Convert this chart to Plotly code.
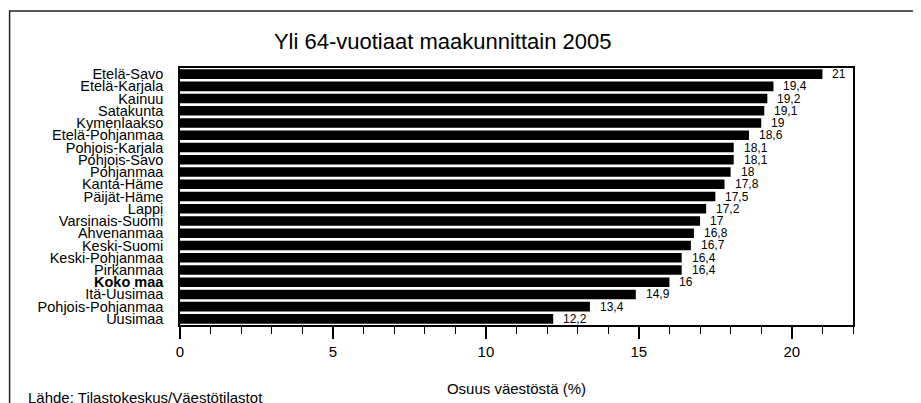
import plotly.graph_objects as go

# Data: share of population aged over 64, by region, 2005 (%)
regions = [
    "Etelä-Savo", "Etelä-Karjala", "Kainuu", "Satakunta", "Kymenlaakso",
    "Etelä-Pohjanmaa", "Pohjois-Karjala", "Pohjois-Savo", "Pohjanmaa",
    "Kanta-Häme", "Päijät-Häme", "Lappi", "Varsinais-Suomi", "Ahvenanmaa",
    "Keski-Suomi", "Keski-Pohjanmaa", "Pirkanmaa", "Koko maa", "Itä-Uusimaa",
    "Pohjois-Pohjanmaa", "Uusimaa",
]
shares = [21, 19.4, 19.2, 19.1, 19, 18.6, 18.1, 18.1, 18, 17.8, 17.5, 17.2,
          17, 16.8, 16.7, 16.4, 16.4, 16, 14.9, 13.4, 12.2]
x_ticks = [0, 5, 10, 15, 20]

FONT = "Liberation Sans, Arial, sans-serif"
INK = "#000000"

# bold label for the national total
tick_text = [f"<b>{r}</b>" if r == "Koko maa" else r for r in regions]

fig = go.Figure()
fig.add_trace(go.Bar(
    x=shares,
    y=regions,
    orientation="h",
    marker=dict(color=INK, line=dict(width=0)),
    hoverinfo="x+y",
))

# value labels with Finnish decimal comma
for r, v in zip(regions, shares):
    fig.add_annotation(
        x=v, y=r, xref="x", yref="y",
        text=f"{v:g}".replace(".", ","),
        showarrow=False, xanchor="left", xshift=8,
        font=dict(family=FONT, size=12, color=INK),
    )

# page has an 8px body margin, so positions are pulled in by 8px
fig.update_layout(
    width=921, height=403,
    margin=dict(l=171.5, r=76, t=60, b=86),
    paper_bgcolor="white", plot_bgcolor="white",
    bargap=0.22,
    showlegend=False,
    font=dict(family=FONT, color=INK),
    title=dict(
        text="Yli 64-vuotiaat maakunnittain 2005",
        x=0.472, xanchor="center", y=0.918, yanchor="middle",
        font=dict(family=FONT, size=22, color=INK),
    ),
)

fig.update_xaxes(
    range=[0, 22],
    tickvals=x_ticks,
    ticks="outside", ticklen=12, tickwidth=1.5, tickcolor=INK,
    minor=dict(dtick=1, ticks="outside", ticklen=7, tickwidth=1.2, tickcolor=INK, showgrid=False),
    showline=True, linecolor=INK, linewidth=1.5, mirror=True,
    showgrid=False, zeroline=False,
    tickfont=dict(family=FONT, size=15, color=INK),
    title=dict(text="Osuus väestöstä (%)", standoff=25,
               font=dict(family=FONT, size=15, color=INK)),
)
fig.update_yaxes(
    categoryorder="array", categoryarray=regions[::-1],
    tickvals=regions, ticktext=tick_text,
    range=[-0.5, len(regions) - 0.5],
    ticks="", ticklabelstandoff=12,
    showline=True, linecolor=INK, linewidth=1.5, mirror=True,
    showgrid=False, zeroline=False,
    tickfont=dict(family=FONT, size=14.5, color=INK),
)

# source note
fig.add_annotation(
    x=-0.2294, y=0, xref="paper", yref="paper", yshift=-72,
    text="Lähde: Tilastokeskus/Väestötilastot",
    showarrow=False, xanchor="left", yanchor="middle",
    font=dict(family=FONT, size=15, color=INK),
)

# outer frame around the whole chart (open at the bottom, as in the scan)
fig.add_shape(type="path", xref="paper", yref="paper",
              path="M -0.2532,-0.4 L -0.2532,1.2218 L 1.098,1.2218 L 1.098,-0.4",
              line=dict(color="#222222", width=1.5))

fig.write_html("out.html")
